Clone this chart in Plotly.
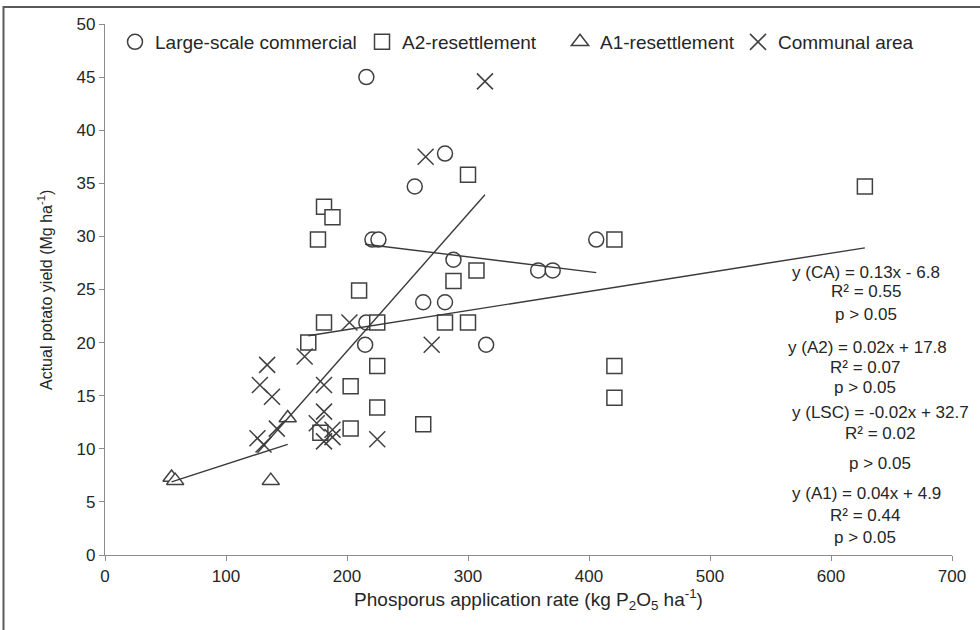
import numpy as np
import plotly.graph_objects as go

# Phosphorus application rate (kg P2O5/ha) and actual potato yield (Mg/ha) per farming sector
lsc_x = [216, 281, 256, 221, 226, 406, 288, 358, 370, 263, 281, 216, 215, 315]
lsc_y = [45.0, 37.8, 34.7, 29.7, 29.7, 29.7, 27.8, 26.8, 26.8, 23.8, 23.8, 21.9, 19.8, 19.8]

a2_x = [628, 300, 181, 188, 176, 181, 168, 210, 225, 281, 300, 288, 307, 421,
        225, 421, 203, 421, 225, 263, 203, 178]
a2_y = [34.7, 35.8, 32.8, 31.8, 29.7, 21.9, 20.0, 24.9, 21.9, 21.9, 21.9, 25.8, 26.8, 29.7,
        17.8, 17.8, 15.9, 14.8, 13.9, 12.3, 11.9, 11.5]

a1_x = [55, 58, 137, 151]
a1_y = [7.3, 7.0, 7.0, 12.9]

ca_x = [314, 265, 202, 270, 225, 134, 128, 138, 165, 181, 181, 175, 188, 181, 188, 142, 126, 131]
ca_y = [44.6, 37.5, 21.9, 19.8, 10.9, 17.9, 16.0, 14.9, 18.7, 16.0, 13.5, 12.4, 11.8, 10.7,
        11.1, 11.9, 11.0, 10.4]

series_names = ["Large-scale commercial", "A2-resettlement", "A1-resettlement", "Communal area"]

# Regression statistics printed beside the plot
stat_lines = [
    ["y (CA) = 0.13x - 6.8", "R² = 0.55", "p > 0.05"],
    ["y (A2) = 0.02x + 17.8", "R² = 0.07", "p > 0.05"],
    ["y (LSC) = -0.02x + 32.7", "R² = 0.02", "p > 0.05"],
    ["y (A1) = 0.04x + 4.9", "R² = 0.44", "p > 0.05"],
]

FONT = "Liberation Sans, Arial, sans-serif"
TXT = "#262626"
MK = "#404040"
AX = "#8c8c8c"

W, H = 980, 630
ML, MR, MT, MB = 105, 28, 24, 75
PW, PH = W - ML - MR, H - MT - MB


def px_to_paper(px, py):
    return (px - ML) / PW, (H - MB - py) / PH


fig = go.Figure()

marker_specs = [
    dict(symbol="circle", size=15, color="white", line=dict(color=MK, width=1.5)),
    dict(symbol="square", size=15, color="white", line=dict(color=MK, width=1.5)),
    dict(symbol="triangle-up", size=15, color="white", line=dict(color=MK, width=1.5)),
    dict(symbol="x-thin", size=16, color=MK, line=dict(color=MK, width=1.5)),
]
groups = [(lsc_x, lsc_y), (a2_x, a2_y), (a1_x, a1_y), (ca_x, ca_y)]
legend_ids = ["legend", "legend2", "legend3", "legend4"]

for (gx, gy), name, spec, lg in zip(groups, series_names, marker_specs, legend_ids):
    fig.add_trace(go.Scatter(x=gx, y=gy, mode="markers", name=name, marker=spec,
                             legend=lg, showlegend=True))

# Linear trendlines fitted to each sector, spanning its observed range
for gx, gy in groups:
    slope, intercept = np.polyfit(gx, gy, 1)
    xs = np.array([min(gx), max(gx)], dtype=float)
    fig.add_trace(go.Scatter(x=xs, y=slope * xs + intercept, mode="lines",
                             line=dict(color="#3a3a3a", width=1.4),
                             showlegend=False, hoverinfo="skip"))

# Regression text, one line per annotation
stat_pos = [
    [(866, 272), (866, 292), (866, 315)],
    [(867, 347), (865, 367), (865, 387)],
    [(880, 412), (880, 433), (880, 463)],
    [(866, 493), (865, 515), (865, 537)],
]
for block, pos in zip(stat_lines, stat_pos):
    for txt, (px, py) in zip(block, pos):
        ax_, ay_ = px_to_paper(px, py)
        fig.add_annotation(x=ax_, y=ay_, xref="paper", yref="paper", text=txt,
                           showarrow=False, xanchor="center", yanchor="middle",
                           font=dict(family=FONT, size=17, color=TXT))

# Y-axis title, rotated, left of the tick labels
tx, ty = px_to_paper(45, 290)
fig.add_annotation(x=tx, y=ty, xref="paper", yref="paper",
                   text="Actual potato yield (Mg ha<sup>-1</sup>)", textangle=-90,
                   showarrow=False, xanchor="center", yanchor="middle",
                   font=dict(family=FONT, size=16, color=TXT))

# Outer chart frame; its right and bottom edges run past the canvas
fx0, fy1 = px_to_paper(3.5, 7)
fx1, fy0 = px_to_paper(W + 30, H + 30)
fig.add_shape(type="rect", xref="paper", yref="paper", layer="above",
              x0=fx0, x1=fx1, y0=fy0, y1=fy1,
              line=dict(color="#5a5a5a", width=2), fillcolor="rgba(0,0,0,0)")
# Top edge drawn as its own segment across the canvas width
tx0, ty_top = px_to_paper(3.5, 7)
tx1, _ = px_to_paper(W, 7)
fig.add_shape(type="line", xref="paper", yref="paper", layer="above",
              x0=tx0, x1=tx1, y0=ty_top, y1=ty_top,
              line=dict(color="#5a5a5a", width=2))

legend_text_start = [155, 402, 600, 778]
legend_cfg = {}
for lg, tx_ in zip(legend_ids, legend_text_start):
    legend_cfg[lg] = dict(xref="container", yref="container", x=(tx_ - 40) / W,
                          y=1 - 42 / H, xanchor="left", yanchor="middle",
                          orientation="v", bgcolor="rgba(0,0,0,0)",
                          font=dict(family=FONT, size=19, color=TXT))

fig.update_layout(
    width=W, height=H,
    margin=dict(l=ML, r=MR, t=MT, b=MB, autoexpand=False),
    paper_bgcolor="white", plot_bgcolor="white",
    font=dict(family=FONT, color=TXT),
    **legend_cfg,
)

fig.update_xaxes(range=[0, 700], dtick=100, showgrid=False, zeroline=False,
                 showline=True, linecolor=AX, linewidth=1.3,
                 ticks="outside", ticklen=5, tickcolor=AX,
                 tickfont=dict(family=FONT, size=17, color=TXT),
                 title=dict(text="Phosporus application rate (kg P<sub>2</sub>O<sub>5</sub> ha<sup>-1</sup>)",
                            font=dict(family=FONT, size=19, color=TXT), standoff=6))
fig.update_yaxes(range=[0, 50], dtick=5, showgrid=False, zeroline=False,
                 showline=True, linecolor=AX, linewidth=1.3,
                 ticks="outside", ticklen=5, tickcolor=AX,
                 tickfont=dict(family=FONT, size=17, color=TXT))

fig.write_html("out.html")
